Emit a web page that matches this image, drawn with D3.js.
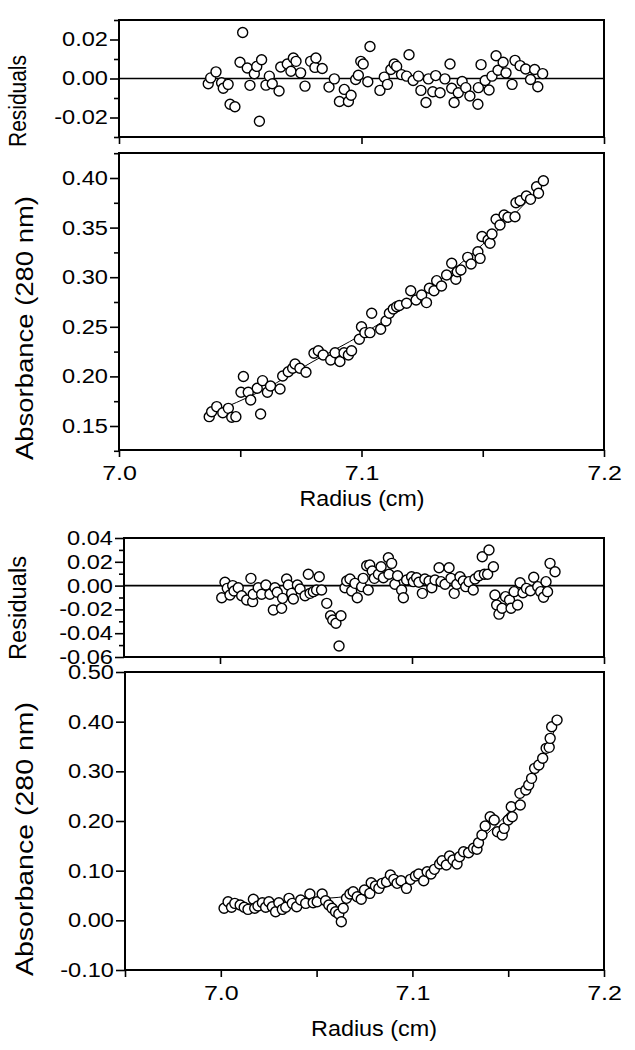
<!DOCTYPE html>
<html><head><meta charset="utf-8">
<script src="https://cdn.jsdelivr.net/npm/d3@7"></script>
<style>body{margin:0;background:#fff}svg{display:block}</style>
</head><body>
<svg id="c" width="635" height="1050"></svg>
<script>
// ---------- DATA ----------
// Top figure: residuals
const res1X=[7.0368,7.0378,7.0400,7.0423,7.0430,7.0450,7.0458,7.0478,7.0499,7.0510,7.0529,7.0540,7.0558,7.0568,7.0579,7.0588,7.0606,7.0620,7.0632,7.0660,7.0667,7.0694,7.0709,7.0719,7.0730,7.0749,7.0767,7.0790,7.0808,7.0812,7.0838,7.0866,7.0888,7.0909,7.0929,7.0946,7.0957,7.0976,7.0987,7.0997,7.1007,7.1026,7.1035,7.1076,7.1094,7.1107,7.1121,7.1135,7.1145,7.1165,7.1186,7.1196,7.1213,7.1235,7.1245,7.1266,7.1276,7.1294,7.1306,7.1324,7.1344,7.1365,7.1372,7.1382,7.1399,7.1415,7.1430,7.1447,7.1480,7.1482,7.1493,7.1510,7.1526,7.1538,7.1555,7.1563,7.1584,7.1596,7.1621,7.1633,7.1654,7.1677,7.1697,7.1714,7.1727,7.1747];
const res1Y=[-0.0027,0.0003,0.0034,-0.0022,-0.0050,-0.0030,-0.0132,-0.0145,0.0083,0.0236,0.0054,-0.0035,0.0024,0.0062,-0.0219,0.0096,-0.0034,0.0012,-0.0027,-0.0064,0.0059,0.0074,0.0037,0.0105,0.0088,0.0029,-0.0039,0.0088,0.0057,0.0105,0.0051,-0.0044,-0.0002,-0.0118,-0.0056,-0.0118,-0.0086,-0.0005,0.0017,0.0088,0.0074,-0.0017,0.0164,-0.0061,0.0007,-0.0030,0.0046,0.0074,0.0062,0.0020,0.0012,0.0122,-0.0010,0.0012,-0.0061,-0.0123,-0.0002,-0.0068,0.0015,-0.0073,-0.0002,0.0074,-0.0050,-0.0123,-0.0073,-0.0015,-0.0047,-0.0090,-0.0132,-0.0047,0.0071,-0.0010,-0.0059,0.0012,0.0117,0.0042,0.0083,0.0029,-0.0030,0.0093,0.0066,0.0049,-0.0005,0.0046,-0.0042,0.0025];
// Top figure: absorbance
const abs1X=[7.0372,7.0382,7.0403,7.0428,7.0451,7.0465,7.0482,7.0503,7.0513,7.0533,7.0543,7.0570,7.0584,7.0592,7.0612,7.0625,7.0664,7.0675,7.0698,7.0716,7.0726,7.0746,7.0771,7.0804,7.0822,7.0842,7.0873,7.0891,7.0911,7.0928,7.0946,7.0959,7.0991,7.1000,7.1014,7.1035,7.1042,7.1079,7.1101,7.1115,7.1131,7.1145,7.1156,7.1186,7.1203,7.1225,7.1248,7.1268,7.1280,7.1299,7.1310,7.1330,7.1351,7.1372,7.1389,7.1395,7.1410,7.1438,7.1452,7.1480,7.1489,7.1497,7.1522,7.1530,7.1538,7.1555,7.1571,7.1588,7.1604,7.1633,7.1637,7.1654,7.1680,7.1697,7.1722,7.1730,7.1750];
const abs1Y=[0.1594,0.1644,0.1695,0.1634,0.1678,0.1588,0.1594,0.1840,0.1999,0.1840,0.1762,0.1880,0.1621,0.1957,0.1840,0.1903,0.1873,0.2004,0.2047,0.2082,0.2125,0.2082,0.2042,0.2233,0.2259,0.2216,0.2165,0.2239,0.2150,0.2239,0.2216,0.2259,0.2374,0.2501,0.2441,0.2441,0.2636,0.2475,0.2558,0.2636,0.2680,0.2703,0.2714,0.2737,0.2864,0.2770,0.2821,0.2744,0.2888,0.2864,0.2965,0.2911,0.3022,0.3140,0.2979,0.3055,0.3073,0.3200,0.3133,0.3257,0.3190,0.3410,0.3375,0.3342,0.3435,0.3584,0.3526,0.3627,0.3604,0.3610,0.3751,0.3771,0.3819,0.3785,0.3912,0.3846,0.3973];
const fit1X=[7.037,7.06,7.08,7.10,7.12,7.14,7.16,7.175];
const fit1Y=[0.162,0.187,0.215,0.242,0.274,0.312,0.356,0.394];
// Bottom figure: residuals
const res2X=[7.0009,7.0026,7.0038,7.0052,7.0066,7.0073,7.0095,7.0113,7.0139,7.0161,7.0170,7.0173,7.0199,7.0217,7.0239,7.0260,7.0278,7.0286,7.0298,7.0321,7.0326,7.0347,7.0356,7.0373,7.0382,7.0403,7.0417,7.0443,7.0460,7.0469,7.0486,7.0503,7.0517,7.0529,7.0556,7.0576,7.0587,7.0604,7.0620,7.0630,7.0651,7.0660,7.0677,7.0686,7.0703,7.0715,7.0738,7.0746,7.0764,7.0772,7.0780,7.0793,7.0804,7.0825,7.0839,7.0851,7.0877,7.0880,7.0894,7.0911,7.0925,7.0946,7.0955,7.0972,7.0998,7.1007,7.1024,7.1036,7.1054,7.1067,7.1089,7.1103,7.1120,7.1141,7.1151,7.1172,7.1193,7.1203,7.1220,7.1233,7.1250,7.1267,7.1280,7.1297,7.1319,7.1328,7.1349,7.1366,7.1377,7.1394,7.1401,7.1424,7.1432,7.1441,7.1453,7.1469,7.1487,7.1508,7.1516,7.1532,7.1550,7.1563,7.1578,7.1596,7.1617,7.1634,7.1655,7.1670,7.1685,7.1698,7.1706,7.1719,7.1745];
const res2Y=[-0.0102,0.0028,-0.0023,-0.0079,0.0000,-0.0045,-0.0018,-0.0085,-0.0121,0.0061,-0.0135,-0.0073,-0.0018,-0.0073,0.0005,-0.0073,-0.0205,-0.0018,-0.0056,-0.0191,-0.0107,0.0055,0.0005,-0.0065,-0.0113,0.0005,-0.0029,-0.0085,0.0095,-0.0065,-0.0051,-0.0037,0.0075,-0.0037,-0.0149,-0.0253,-0.0289,-0.0317,-0.0508,-0.0253,-0.0018,0.0039,0.0055,-0.0045,0.0019,-0.0102,-0.0009,0.0061,0.0167,-0.0037,0.0173,0.0123,0.0061,0.0095,0.0159,0.0066,0.0234,0.0095,0.0187,0.0011,0.0083,-0.0037,-0.0102,0.0047,0.0075,0.0033,0.0066,0.0028,-0.0065,0.0055,0.0039,-0.0018,0.0047,0.0150,0.0033,0.0011,0.0150,0.0061,-0.0065,0.0011,0.0075,0.0039,-0.0009,0.0033,-0.0037,0.0055,0.0083,0.0243,0.0095,0.0095,0.0299,0.0159,-0.0079,-0.0163,-0.0240,-0.0190,-0.0093,-0.0121,-0.0190,-0.0051,-0.0163,0.0024,-0.0060,-0.0023,-0.0043,0.0070,-0.0009,-0.0051,-0.0098,0.0033,-0.0051,0.0187,0.0117];
// Bottom figure: absorbance
const abs2X=[7.0017,7.0038,7.0056,7.0073,7.0101,7.0122,7.0142,7.0170,7.0177,7.0194,7.0217,7.0234,7.0251,7.0269,7.0286,7.0303,7.0321,7.0339,7.0356,7.0373,7.0396,7.0417,7.0443,7.0465,7.0482,7.0503,7.0529,7.0547,7.0564,7.0581,7.0599,7.0616,7.0629,7.0639,7.0656,7.0674,7.0691,7.0712,7.0733,7.0750,7.0778,7.0785,7.0807,7.0825,7.0842,7.0865,7.0885,7.0903,7.0920,7.0941,7.0969,7.0990,7.1016,7.1033,7.1059,7.1077,7.1097,7.1115,7.1142,7.1155,7.1177,7.1194,7.1212,7.1233,7.1246,7.1267,7.1293,7.1319,7.1337,7.1345,7.1363,7.1380,7.1406,7.1427,7.1444,7.1469,7.1479,7.1500,7.1516,7.1521,7.1561,7.1563,7.1592,7.1607,7.1622,7.1638,7.1660,7.1680,7.1698,7.1714,7.1719,7.1727,7.1755];
const abs2Y=[0.0242,0.0375,0.0262,0.0342,0.0308,0.0262,0.0221,0.0423,0.0242,0.0288,0.0354,0.0262,0.0375,0.0274,0.0173,0.0354,0.0221,0.0262,0.0443,0.0342,0.0274,0.0409,0.0342,0.0529,0.0354,0.0375,0.0529,0.0395,0.0308,0.0242,0.0173,0.0127,-0.0028,0.0242,0.0443,0.0529,0.0576,0.0475,0.0423,0.0610,0.0543,0.0757,0.0690,0.0644,0.0745,0.0777,0.0912,0.0825,0.0745,0.0797,0.0644,0.0825,0.0892,0.0932,0.0797,0.0979,0.0932,0.1027,0.1133,0.1200,0.1113,0.1295,0.1214,0.1133,0.1280,0.1381,0.1361,0.1450,0.1430,0.1562,0.1717,0.1899,0.2086,0.2019,0.1784,0.1717,0.1852,0.2019,0.2287,0.2086,0.2557,0.2321,0.2623,0.2724,0.2859,0.3060,0.3127,0.3262,0.3463,0.3483,0.3664,0.3898,0.4032];
const fit2X=[7.0,7.02,7.04,7.05,7.065,7.08,7.10,7.12,7.13,7.14,7.15,7.16,7.17,7.176];
const fit2Y=[0.031,0.034,0.039,0.043,0.048,0.061,0.085,0.122,0.147,0.178,0.217,0.268,0.345,0.400];

// ticks
const xMajor=[7.0,7.1,7.2];
const x1Ticks=[7.0,7.05,7.1,7.15,7.2];
const x2Ticks=[6.95,7.0,7.05,7.1,7.15,7.2];
const res1Ticks=[-0.02,0.00,0.02], res1Minor=[-0.03,-0.01,0.01,0.03];
const abs1Ticks=[0.15,0.20,0.25,0.30,0.35,0.40], abs1Minor=[0.125,0.175,0.225,0.275,0.325,0.375,0.425];
const res2Ticks=[-0.06,-0.04,-0.02,0.00,0.02,0.04], res2Minor=[-0.05,-0.03,-0.01,0.01,0.03];
const abs2Ticks=[-0.10,0.00,0.10,0.20,0.30,0.40,0.50];
const yTitleRes="Residuals", yTitleAbs="Absorbance (280 nm)", xTitle="Radius (cm)";

// ---------- DRAW ----------
const svg=d3.select("#c");
const FONT="'Liberation Sans', Arial, Helvetica, sans-serif";
const fmt2=d=>(Math.abs(d)<1e-9?0:d).toFixed(2);

// widen glyphs horizontally (the reference type is stretched)
function stretch(sel,k){
  sel.each(function(){
    const w=this.getComputedTextLength();
    if(w>0) d3.select(this).attr("textLength",w*k).attr("lengthAdjust","spacingAndGlyphs");
  });
}

function panel(o){
  const x=d3.scaleLinear().domain(o.xDom).range([o.x0,o.x1]);
  const y=d3.scaleLinear().domain(o.yDom).range([o.y1,o.y0]);
  const g=svg.append("g");
  const ya=g.append("g").attr("transform",`translate(${o.x0},0)`)
    .call(d3.axisLeft(y).tickValues(o.yTicks).tickSize(9).tickPadding(2).tickFormat(fmt2));
  if(o.yMinor){
    g.append("g").attr("transform",`translate(${o.x0},0)`)
     .call(d3.axisLeft(y).tickValues(o.yMinor).tickSize(5).tickFormat(""))
     .select(".domain").remove();
  }
  const xa=g.append("g").attr("transform",`translate(0,${o.y1})`)
    .call(d3.axisBottom(x).tickValues(o.xTicks).tickSize(7).tickPadding(9)
      .tickFormat(d=>o.xLabels && xMajor.some(v=>Math.abs(v-d)<1e-9)?d.toFixed(1):""));
  [ya,xa].forEach(a=>{a.select(".domain").remove();
    a.selectAll("text").attr("font-family",FONT).attr("font-size",20).attr("fill","#000");});
  stretch(ya.selectAll("text"),1.18);
  stretch(xa.selectAll("text"),1.25);
  g.selectAll(".tick line").attr("stroke","#000").attr("stroke-width",1.6);
  if(o.zero){
    g.append("line").attr("x1",o.x0).attr("x2",o.x1).attr("y1",y(0)).attr("y2",y(0))
     .attr("stroke","#000").attr("stroke-width",1.6);
  }
  if(o.fitX){
    g.append("path").datum(o.fitX.map((v,i)=>[v,o.fitY[i]]))
     .attr("fill","none").attr("stroke","#000").attr("stroke-width",1)
     .attr("d",d3.line().x(d=>x(d[0])).y(d=>y(d[1])).curve(d3.curveMonotoneX));
  }
  g.append("g").selectAll("circle").data(o.px.map((v,i)=>[v,o.py[i]])).join("circle")
    .attr("cx",d=>x(d[0])).attr("cy",d=>y(d[1])).attr("r",5)
    .attr("fill","#fff").attr("stroke","#000").attr("stroke-width",1.4);
  g.append("rect").attr("x",o.x0).attr("y",o.y0).attr("width",o.x1-o.x0).attr("height",o.y1-o.y0)
    .attr("fill","none").attr("stroke","#000").attr("stroke-width",2);
  return {x,y};
}

function ytitle(text,cx,cy,len){
  svg.append("text").attr("transform",`translate(${cx},${cy}) rotate(-90)`)
    .attr("text-anchor","middle").attr("dominant-baseline","central")
    .attr("font-family",FONT).attr("font-size",23)
    .attr("textLength",len).attr("lengthAdjust","spacingAndGlyphs").text(text);
}
function xtitle(text,cx,cy,len){
  svg.append("text").attr("x",cx).attr("y",cy).attr("text-anchor","middle")
    .attr("dominant-baseline","central").attr("font-family",FONT).attr("font-size",22)
    .attr("textLength",len).attr("lengthAdjust","spacingAndGlyphs").text(text);
}

// Top figure
panel({x0:119,x1:604,y0:20,y1:137,xDom:[7.0,7.2],yDom:[-0.03,0.03],yTicks:res1Ticks,yMinor:res1Minor,
  xTicks:xMajor,xLabels:false,zero:true,px:res1X,py:res1Y});
panel({x0:119,x1:604,y0:153,y1:450,xDom:[7.0,7.2],yDom:[0.1258,0.4252],yTicks:abs1Ticks,yMinor:abs1Minor,
  xTicks:x1Ticks,xLabels:true,px:abs1X,py:abs1Y,fitX:fit1X,fitY:fit1Y});
ytitle(yTitleRes,18,101,92);
ytitle(yTitleAbs,25,328,264);
xtitle(xTitle,362,498,125);

// Bottom figure
panel({x0:124,x1:604,y0:538,y1:657,xDom:[6.95,7.2],yDom:[-0.06,0.04],yTicks:res2Ticks,yMinor:res2Minor,
  xTicks:xMajor,xLabels:false,zero:true,px:res2X,py:res2Y});
panel({x0:125,x1:604,y0:672,y1:970,xDom:[6.95,7.2],yDom:[-0.10,0.50],yTicks:abs2Ticks,
  xTicks:x2Ticks,xLabels:true,px:abs2X,py:abs2Y,fitX:fit2X,fitY:fit2Y});
ytitle(yTitleRes,18,608,104);
ytitle(yTitleAbs,25,839,274);
xtitle(xTitle,374,1028,126);
</script>
</body></html>
